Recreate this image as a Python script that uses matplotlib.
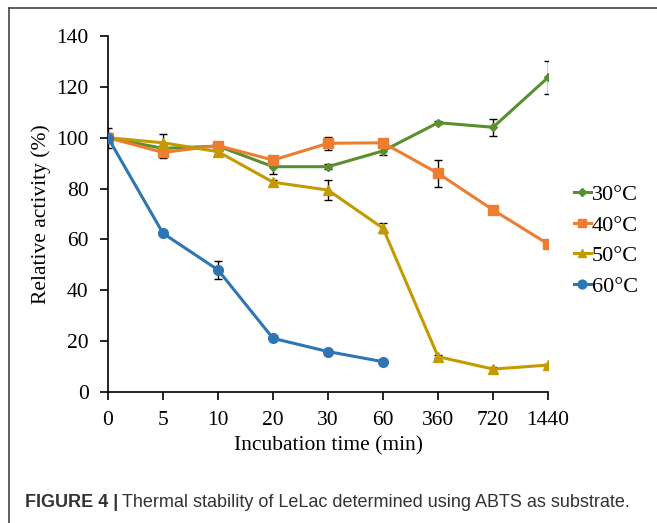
import matplotlib
matplotlib.use("Agg")
import matplotlib.pyplot as plt
from matplotlib.lines import Line2D
import numpy as np

# incubation times are categorical on the x axis
times = ["0", "5", "10", "20", "30", "60", "360", "720", "1440"]

act_30 = [100, 95.8, 96.7, 88.6, 88.6, 94.8, 105.9, 104.1, 123.7]
err_30 = [4.0, 1.5, 1.0, 3.0, 1.0, 1.5, 0.5, 3.3, 6.5]

act_40 = [100, 94.2, 96.9, 91.2, 97.8, 98.0, 86.0, 71.6, 58.2]
err_40 = [2.0, 2.0, 1.0, 1.0, 2.5, 1.5, 5.2, 0.8, 1.5]

act_50 = [100, 98.0, 94.5, 82.5, 79.4, 64.4, 13.9, 9.0, 10.6]
err_50 = [1.5, 3.5, 1.0, 1.0, 4.0, 2.0, 0.5, 1.0, 0.5]

act_60 = [100, 62.4, 48.0, 21.1, 15.9, 11.9]
err_60 = [1.5, 0.5, 3.5, 0.5, 0.5, 0.5]

series = [
    ("30°C", act_30, err_30, "#5a8f2f", "D", 4.5),
    ("40°C", act_40, err_40, "#ed7d31", "s", 7),
    ("50°C", act_50, err_50, "#c39b00", "^", 7),
    ("60°C", act_60, err_60, "#2e75b6", "o", 7),
]

plt.rcParams["font.family"] = ["Liberation Serif", "DejaVu Serif"]

fig = plt.figure(figsize=(6.57, 5.23), dpi=100)
ax = fig.add_axes([0.1644, 0.2505, 0.6698, 0.6807])

handles = []
for name, vals, errs, col, mk, ms in series:
    x = np.arange(len(vals))
    ax.errorbar(x, vals, yerr=errs, fmt="none", ecolor="black",
                elinewidth=1.0, capsize=3, capthick=1.0, zorder=2)
    ax.plot(x, vals, color=col, lw=2.2, marker=mk, ms=ms, zorder=3)
    handles.append(Line2D([0], [0], color=col, lw=2.2, marker=mk, ms=ms * 0.9))

ax.set_xlim(0, len(times) - 1)
ax.set_ylim(0, 140)
ax.set_xticks(np.arange(len(times)))
ax.set_xticklabels(times)
ax.set_yticks(np.arange(0, 141, 20))
ax.tick_params(axis="both", labelsize=15.5, length=6, width=1.2, direction="out")
ax.tick_params(axis="x", pad=8)
ax.tick_params(axis="y", pad=8)
for s in ["top", "right"]:
    ax.spines[s].set_visible(False)
for s in ["left", "bottom"]:
    ax.spines[s].set_linewidth(1.2)

ax.set_xlabel("Incubation time (min)", fontsize=15.5, labelpad=4)
ax.set_ylabel("Relative activity (%)", fontsize=15.5, labelpad=4)

fig.legend(handles, [s[0] for s in series], loc="center left",
           bbox_to_anchor=(0.857, 0.54), frameon=False, fontsize=16,
           handlelength=0.75, handletextpad=0.05, labelspacing=0.45,
           borderpad=0)

# frame around the figure panel (top and left edges visible)
fig.add_artist(Line2D([0.013, 1.0], [0.984, 0.984], transform=fig.transFigure,
                      color="#444444", lw=1.2))
fig.add_artist(Line2D([0.013, 0.013], [0.0, 0.984], transform=fig.transFigure,
                      color="#444444", lw=1.2))

# caption: bold label, then the regular text right after it
cap_font = ["Liberation Sans", "DejaVu Sans"]
lead = fig.text(0.038, 0.03, "FIGURE 4 |", fontsize=13, fontweight="bold",
                family=cap_font, color="#333333", va="baseline")
fig.canvas.draw()
bb = lead.get_window_extent(fig.canvas.get_renderer())
x_next = (bb.x1 + 4) / fig.bbox.width
fig.text(x_next, 0.03, "Thermal stability of LeLac determined using ABTS as substrate.",
         fontsize=13, family=cap_font, color="#333333", va="baseline")

fig.savefig("out.png", dpi=100)
